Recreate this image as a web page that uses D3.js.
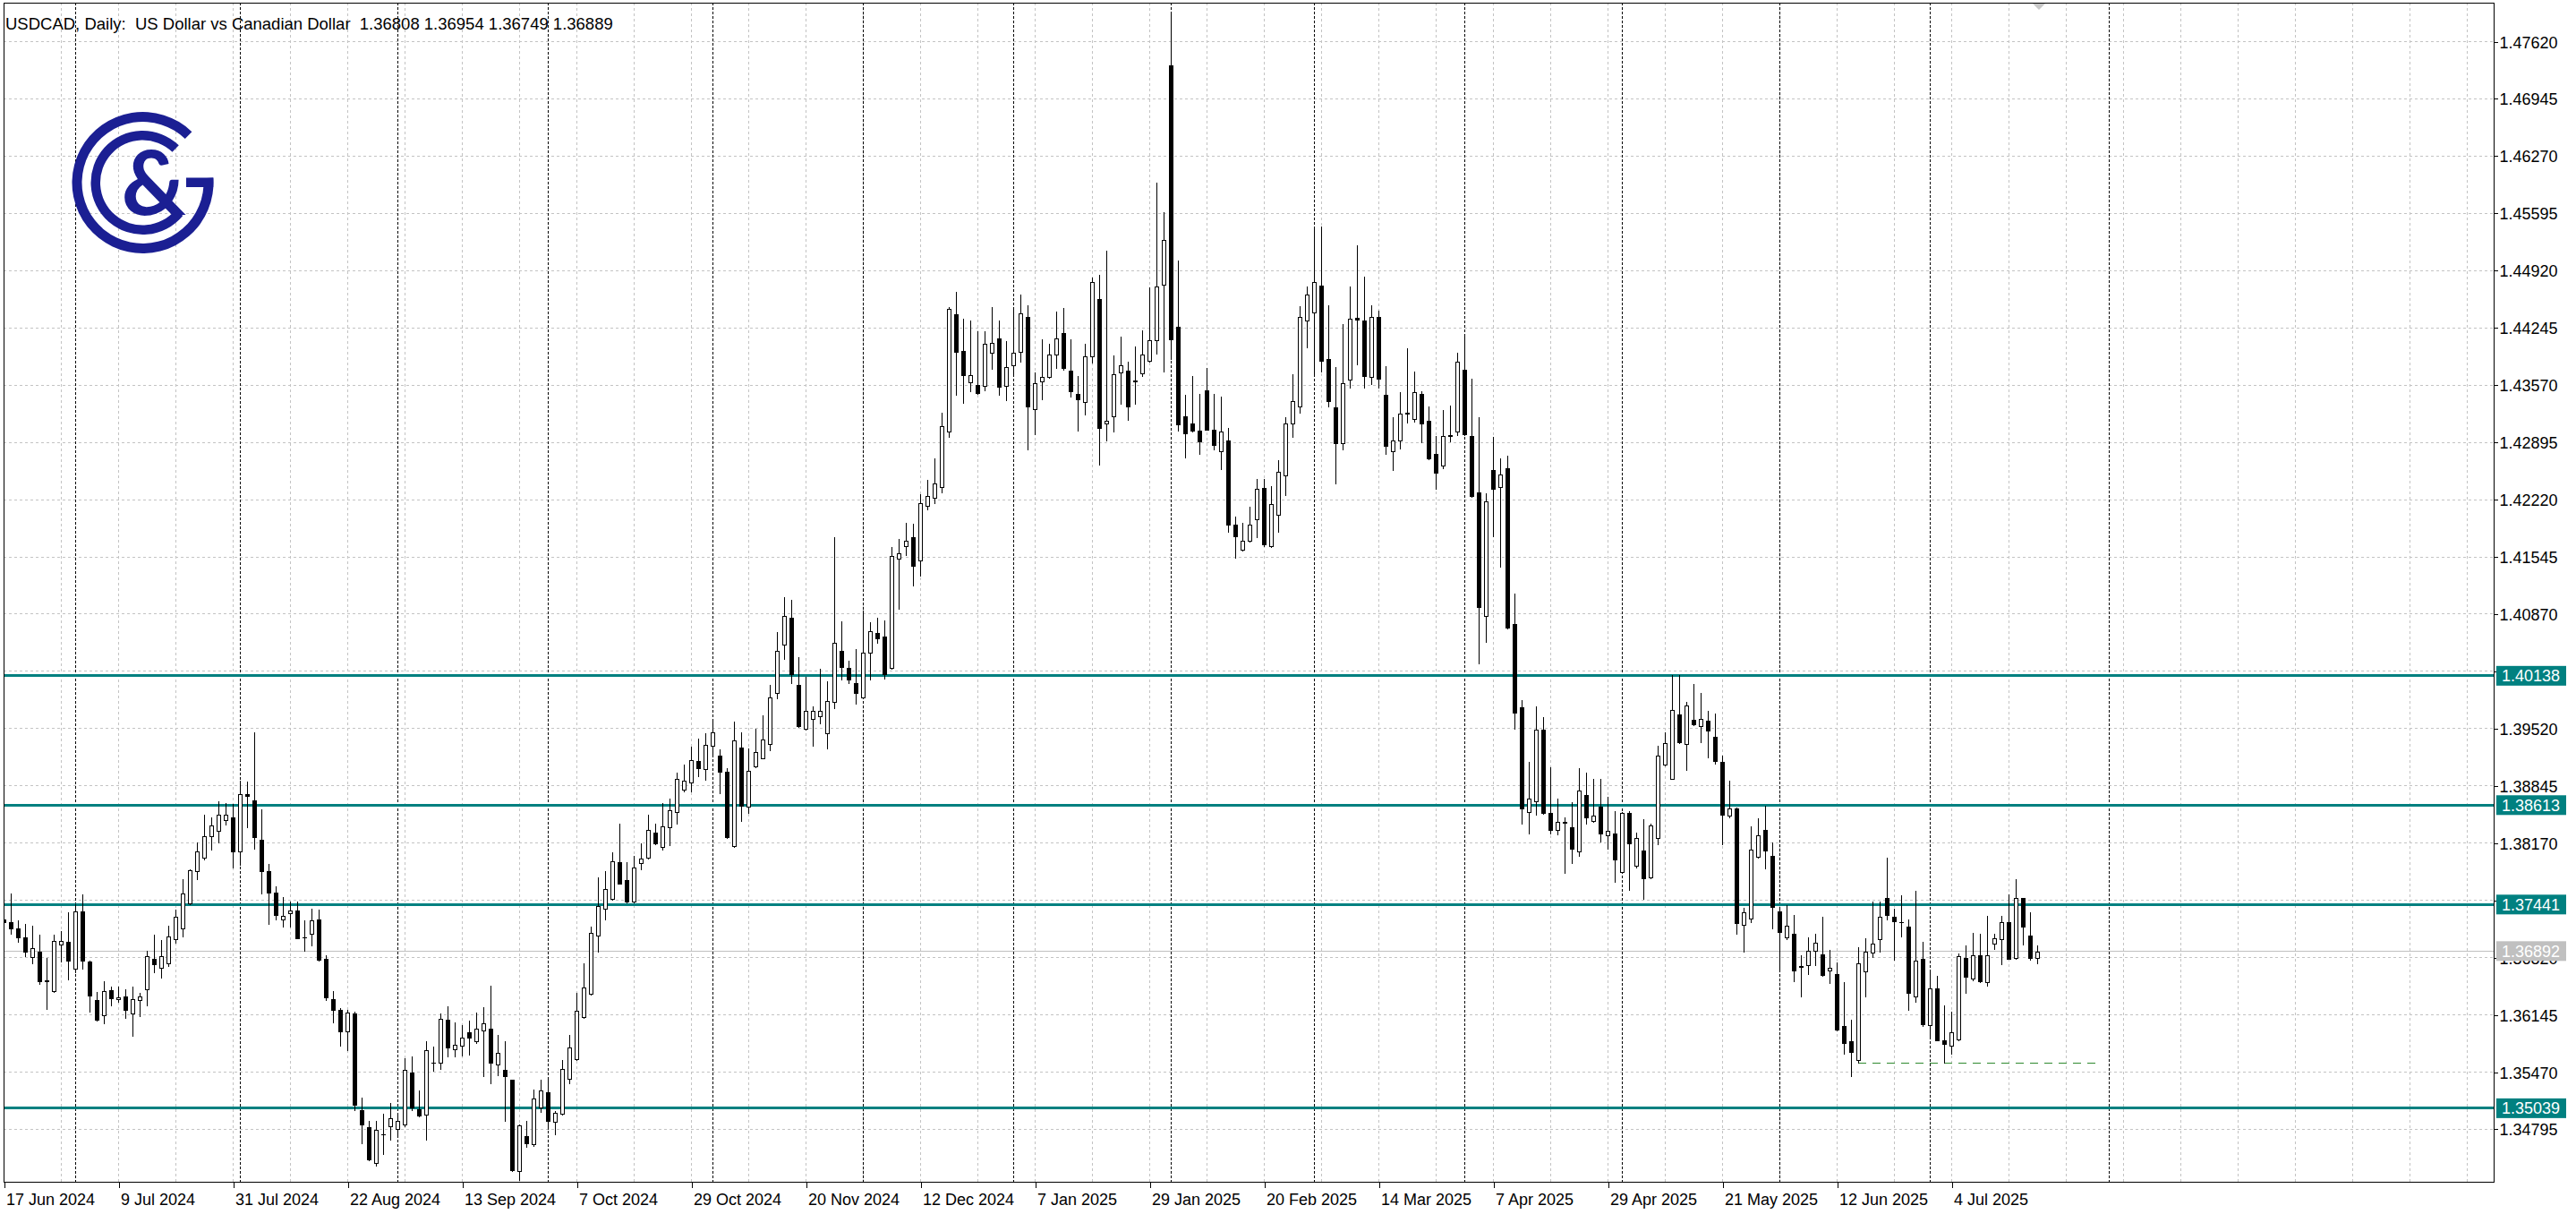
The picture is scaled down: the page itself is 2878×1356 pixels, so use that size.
<!DOCTYPE html>
<html><head><meta charset="utf-8">
<script src="https://cdn.jsdelivr.net/npm/d3@7"></script>
<style>html,body{margin:0;padding:0;background:#fff;overflow:hidden}svg{display:block}</style>
</head><body>
<script>
// ---------------- DATA ----------------
const symbolTitle = "USDCAD, Daily:  US Dollar vs Canadian Dollar  1.36808 1.36954 1.36749 1.36889";
const dateLabels = ["17 Jun 2024","9 Jul 2024","31 Jul 2024","22 Aug 2024","13 Sep 2024","7 Oct 2024","29 Oct 2024","20 Nov 2024","12 Dec 2024","7 Jan 2025","29 Jan 2025","20 Feb 2025","14 Mar 2025","7 Apr 2025","29 Apr 2025","21 May 2025","12 Jun 2025","4 Jul 2025"];
const dateLabelBars = [0,16,32,48,64,80,96,112,128,144,160,176,192,208,224,240,256,272];
const separatorBars = [10,33,55,76,99,120,141,163,183,204,226,248,269,294];
const priceTicks = [1.47620,1.46945,1.46270,1.45595,1.44920,1.44245,1.43570,1.42895,1.42220,1.41545,1.40870,1.40195,1.39520,1.38845,1.38170,1.37495,1.36820,1.36145,1.35470,1.34795];
const levels = [1.40138,1.38613,1.37441,1.35039];
const lastPrice = 1.36892;
const supportPrice = 1.35580;
const supportFromBar = 259;
const supportToBar = 293;

const open = [1.37262,1.37233,1.37155,1.37050,1.36818,1.36881,1.36540,1.36417,1.36972,1.36997,
1.36687,1.37356,1.36768,1.36311,1.36135,1.36434,1.36325,1.36353,1.36160,1.36311,
1.36441,1.36800,1.36698,1.36751,1.37029,1.37156,1.37451,1.37831,1.37990,1.38243,
1.38313,1.38440,1.38465,1.38070,1.38739,1.38665,1.38201,1.37831,1.37585,1.37261,
1.37338,1.37367,1.37057,1.37092,1.37268,1.36800,1.36325,1.36195,1.35941,1.36161,
1.35021,1.34820,1.34394,1.34729,1.34824,1.34795,1.34850,1.35458,1.35032,1.34966,
1.35578,1.35571,1.36081,1.35731,1.35779,1.35932,1.35826,1.35961,1.35972,1.35560,
1.35494,1.35371,1.34303,1.34711,1.34613,1.35050,1.35225,1.34875,1.34977,1.35389,
1.35615,1.36117,1.36387,1.37079,1.37389,1.37509,1.37939,1.37728,1.37473,1.37928,
1.37990,1.38292,1.38117,1.38347,1.38529,1.38795,1.38885,1.39130,1.39036,1.39315,
1.39199,1.39005,1.38131,1.39294,1.38596,1.39070,1.39165,1.39337,1.39940,1.40509,
1.40823,1.40026,1.39518,1.39630,1.39660,1.39458,1.39832,1.40436,1.40233,1.40048,
1.39884,1.40414,1.40642,1.40599,1.40233,1.41521,1.41672,1.41771,1.41500,1.42146,
1.42232,1.42361,1.43020,1.44399,1.43968,1.43602,1.43567,1.43559,1.43947,1.44119,
1.43559,1.43796,1.43955,1.44369,1.43281,1.43613,1.43660,1.43927,1.44177,1.43733,
1.43462,1.43367,1.43906,1.44582,1.43109,1.43195,1.43712,1.43733,1.43617,1.43703,
1.43850,1.44091,1.44746,1.47340,1.44251,1.43195,1.43109,1.43031,1.43505,1.43035,
1.42785,1.42915,1.41924,1.41622,1.41730,1.41988,1.42354,1.41665,1.42031,1.42505,
1.43117,1.43315,1.44324,1.44423,1.44737,1.43871,1.43302,1.42885,1.43626,1.44358,
1.44330,1.43658,1.44374,1.43456,1.42782,1.42914,1.43238,1.43164,1.43466,1.43148,
1.42755,1.42622,1.42978,1.43015,1.43748,1.42967,1.42304,1.40839,1.42564,1.42367,
1.42580,1.40748,1.39766,1.38535,1.38662,1.39501,1.38519,1.38322,1.38412,1.38349,
1.38067,1.38731,1.38428,1.38598,1.38253,1.38280,1.37828,1.38519,1.37897,1.38078,
1.37759,1.38227,1.39087,1.38927,1.39686,1.39331,1.39617,1.39543,1.39607,1.39415,
1.39123,1.38493,1.38571,1.37198,1.37276,1.38001,1.38317,1.38015,1.37357,1.37050,
1.37092,1.36716,1.36723,1.36899,1.36857,1.36660,1.36618,1.36009,1.35826,1.35604,
1.36653,1.36874,1.37029,1.37522,1.37297,1.37237,1.37181,1.36361,1.36801,1.36019,
1.36452,1.35843,1.35773,1.35854,1.36811,1.36565,1.36839,1.36530,1.36977,1.37029,
1.37233,1.36811,1.37515,1.37075,1.36808];
const high = [1.37290,1.37567,1.37258,1.37208,1.37187,1.37081,1.36811,1.37081,1.37127,1.37349,
1.37444,1.37560,1.36780,1.36406,1.36536,1.36476,1.36476,1.36441,1.36476,1.36395,
1.36899,1.37081,1.37022,1.37187,1.37384,1.37743,1.37859,1.38172,1.38500,1.38472,
1.38658,1.38641,1.38630,1.38897,1.38887,1.39467,1.38560,1.37919,1.37655,1.37525,
1.37479,1.37472,1.37250,1.37391,1.37381,1.36846,1.36417,1.36220,1.36195,1.36180,
1.35159,1.34886,1.34886,1.34977,1.35097,1.34977,1.35633,1.35651,1.35250,1.35833,
1.35771,1.36161,1.36241,1.36052,1.36015,1.36077,1.36172,1.36234,1.36482,1.35899,
1.35826,1.35378,1.34850,1.34893,1.35258,1.35378,1.35396,1.35003,1.35607,1.35906,
1.36398,1.36751,1.37181,1.37764,1.37837,1.38056,1.38391,1.37939,1.38019,1.38165,
1.38500,1.38391,1.38638,1.38693,1.38992,1.39094,1.39303,1.39402,1.39458,1.39595,
1.39272,1.39044,1.39595,1.39475,1.39285,1.39509,1.39673,1.40026,1.40651,1.41060,
1.41030,1.40362,1.40121,1.39777,1.40220,1.40078,1.41771,1.40780,1.40319,1.40457,
1.40909,1.40767,1.40823,1.40793,1.41655,1.41750,1.41943,1.41930,1.42279,1.42452,
1.42706,1.43236,1.44485,1.44670,1.44343,1.44326,1.44205,1.44205,1.44485,1.44326,
1.44084,1.44455,1.44636,1.44507,1.43712,1.44100,1.44048,1.44431,1.44474,1.44100,
1.43669,1.44048,1.44832,1.44866,1.45155,1.43919,1.44134,1.43841,1.44022,1.44207,
1.44716,1.45953,1.45599,1.47943,1.45035,1.43453,1.43669,1.43462,1.43764,1.43462,
1.43432,1.43057,1.42010,1.41945,1.42126,1.42454,1.42462,1.42376,1.42678,1.43186,
1.43690,1.44496,1.44724,1.45427,1.45435,1.44509,1.43776,1.44281,1.44724,1.45211,
1.44845,1.44502,1.44438,1.43790,1.43190,1.43482,1.44003,1.43721,1.43493,1.43312,
1.42962,1.43270,1.43323,1.43950,1.44135,1.43642,1.43190,1.42288,1.42951,1.42702,
1.42728,1.41104,1.39846,1.39118,1.39777,1.39649,1.39060,1.38688,1.38465,1.38651,
1.39049,1.38996,1.38927,1.38927,1.38715,1.38545,1.38529,1.38545,1.38290,1.38449,
1.38396,1.39315,1.39474,1.40148,1.40148,1.39830,1.40042,1.39936,1.39725,1.39690,
1.39197,1.38905,1.38588,1.37402,1.38366,1.38458,1.38606,1.38176,1.37416,1.37437,
1.37321,1.36846,1.37050,1.37092,1.37297,1.36906,1.36758,1.36522,1.36079,1.36934,
1.37040,1.37473,1.37473,1.37997,1.37392,1.37550,1.37262,1.37603,1.37005,1.36677,
1.36600,1.36248,1.36178,1.36864,1.36959,1.37110,1.37092,1.37311,1.37092,1.37304,
1.37557,1.37744,1.37522,1.37346,1.36954];
const low = [1.37220,1.37099,1.36997,1.36828,1.36747,1.36504,1.36212,1.36410,1.36768,1.36557,
1.36642,1.36687,1.36177,1.36072,1.36037,1.36255,1.36290,1.36100,1.35896,1.36124,
1.36248,1.36642,1.36582,1.36712,1.36987,1.37068,1.37444,1.37743,1.37972,1.38085,
1.38172,1.38387,1.37877,1.37912,1.38352,1.38102,1.37574,1.37215,1.37268,1.37180,
1.37180,1.37039,1.36899,1.36962,1.36775,1.36318,1.36054,1.35772,1.35727,1.35014,
1.34631,1.34423,1.34358,1.34504,1.34667,1.34704,1.34831,1.35014,1.34941,1.34667,
1.35476,1.35498,1.35651,1.35651,1.35658,1.35669,1.35804,1.35414,1.35330,1.35433,
1.34886,1.34303,1.34194,1.34584,1.34595,1.34995,1.34795,1.34729,1.34966,1.35330,
1.35607,1.36106,1.36380,1.36882,1.37261,1.37502,1.37684,1.37465,1.37465,1.37855,
1.37983,1.38147,1.38092,1.38136,1.38391,1.38777,1.38777,1.38949,1.38915,1.39195,
1.38755,1.38230,1.38122,1.38424,1.38518,1.39057,1.39165,1.39259,1.39876,1.40336,
1.40048,1.39531,1.39501,1.39315,1.39574,1.39285,1.39759,1.40091,1.40048,1.39811,
1.39876,1.40091,1.40522,1.40104,1.40220,1.40931,1.41556,1.41198,1.41319,1.42103,
1.42172,1.42301,1.42956,1.43451,1.43352,1.43494,1.43464,1.43503,1.43753,1.43451,
1.43386,1.43688,1.43839,1.42805,1.42988,1.43402,1.43651,1.43764,1.43746,1.43432,
1.43031,1.43216,1.43832,1.42626,1.42915,1.43022,1.43346,1.43160,1.43346,1.43677,
1.43841,1.43936,1.43720,1.43876,1.43031,1.42712,1.43022,1.42751,1.43035,1.42807,
1.42570,1.41837,1.41527,1.41609,1.41721,1.41773,1.41665,1.41656,1.41837,1.42268,
1.42958,1.43238,1.44013,1.43690,1.43720,1.43315,1.42410,1.42807,1.43531,1.43807,
1.43535,1.43578,1.43535,1.42750,1.42569,1.42819,1.43121,1.43137,1.42888,1.42686,
1.42341,1.42580,1.42898,1.42978,1.42978,1.42251,1.40281,1.40536,1.41783,1.41422,
1.40700,1.39517,1.38396,1.38280,1.38503,1.38508,1.38280,1.38269,1.37812,1.37934,
1.38014,1.38396,1.38412,1.38184,1.38094,1.37706,1.37817,1.37616,1.37881,1.37510,
1.37749,1.38147,1.39076,1.38917,1.39341,1.39033,1.39554,1.39352,1.39171,1.39105,
1.38155,1.38472,1.37100,1.36882,1.37233,1.37993,1.37867,1.37156,1.36688,1.37029,
1.36537,1.36361,1.36618,1.36723,1.36600,1.36512,1.35960,1.35685,1.35421,1.35579,
1.36361,1.36818,1.36888,1.37262,1.36794,1.37064,1.36195,1.36290,1.36009,1.35889,
1.35836,1.35579,1.35685,1.35843,1.36396,1.36547,1.36530,1.36487,1.36917,1.36734,
1.36797,1.36804,1.36969,1.36794,1.36749];
const close = [1.37235,1.37162,1.37057,1.36881,1.36923,1.36540,1.36545,1.37015,1.37008,1.36782,
1.37356,1.36775,1.36371,1.36079,1.36417,1.36336,1.36346,1.36195,1.36325,1.36353,
1.36828,1.36733,1.36835,1.37064,1.37293,1.37567,1.37842,1.38070,1.38243,1.38377,
1.38500,1.38500,1.38070,1.38746,1.38725,1.38236,1.37838,1.37585,1.37321,1.37303,
1.37367,1.37046,1.37050,1.37250,1.36786,1.36343,1.36195,1.35941,1.36167,1.35075,
1.34850,1.34431,1.34788,1.34733,1.34922,1.34893,1.35487,1.35050,1.34952,1.35724,
1.35574,1.36088,1.35753,1.35790,1.35870,1.35870,1.35972,1.36045,1.35578,1.35695,
1.35414,1.34311,1.34839,1.34631,1.35152,1.35250,1.34886,1.34984,1.35505,1.35753,
1.36190,1.36463,1.37108,1.37418,1.37626,1.37946,1.37691,1.37473,1.37881,1.37983,
1.38318,1.38158,1.38365,1.38555,1.38923,1.38904,1.39143,1.39044,1.39328,1.39475,
1.39005,1.38238,1.39371,1.38605,1.39014,1.39238,1.39389,1.39884,1.40436,1.40845,
1.40156,1.39544,1.39725,1.39725,1.39725,1.39845,1.40530,1.40242,1.40091,1.39940,
1.40414,1.40664,1.40578,1.40156,1.41547,1.41586,1.41728,1.41439,1.42172,1.42258,
1.42404,1.43085,1.44464,1.43955,1.43679,1.43688,1.43473,1.44054,1.44067,1.43550,
1.43783,1.43947,1.44408,1.43309,1.43591,1.43660,1.43927,1.44121,1.43764,1.43488,
1.43402,1.43906,1.44780,1.43057,1.43143,1.43690,1.43798,1.43315,1.43608,1.43927,
1.44091,1.44733,1.45272,1.44100,1.43100,1.43001,1.43031,1.42902,1.43044,1.42859,
1.43014,1.41924,1.41786,1.41730,1.41924,1.42346,1.41687,1.42161,1.42548,1.43117,
1.43376,1.44367,1.44638,1.44780,1.43850,1.43376,1.42885,1.43583,1.44349,1.44341,
1.43675,1.44374,1.43642,1.42845,1.42914,1.43227,1.43227,1.43482,1.43111,1.42702,
1.42537,1.42962,1.42967,1.43838,1.42989,1.42261,1.40950,1.42198,1.42341,1.42511,
1.40711,1.39702,1.38572,1.38694,1.39501,1.38519,1.38322,1.38412,1.38402,1.38094,
1.38784,1.38465,1.38492,1.38280,1.38306,1.37971,1.38519,1.38163,1.38227,1.37749,
1.38375,1.39193,1.39341,1.39739,1.39352,1.39793,1.39564,1.39633,1.39488,1.39134,
1.38500,1.38571,1.37226,1.37346,1.38085,1.38254,1.38078,1.37409,1.37121,1.37191,
1.36660,1.36709,1.36892,1.36987,1.36607,1.36695,1.35967,1.35808,1.35703,1.36751,
1.36888,1.36977,1.37297,1.37321,1.37240,1.37230,1.36396,1.36776,1.36030,1.36452,
1.35843,1.35801,1.35938,1.36829,1.36593,1.36839,1.36537,1.36839,1.37040,1.37233,
1.36804,1.37515,1.37180,1.36811,1.36889];

// ---------------- LAYOUT ----------------
const W = 2878, H = 1356;
const plot = {left: 4, right: 2786, top: 3, bottom: 1320};
const FONT = "'Liberation Sans', Arial, sans-serif";
const TEAL = "#008080";
const GRID = "#c3c3c3";

const svg = d3.select("body").append("svg").attr("width", W).attr("height", H)
  .style("font-family", FONT);
svg.append("rect").attr("width", W).attr("height", H).attr("fill", "#fff");

const x = d3.scaleLinear().domain([0, 347.75]).range([plot.left, plot.right]);
const y = d3.scaleLinear().domain([1.34172, 1.48106]).range([1320, 0]);
const px = v => Math.round(x(v));
const py = v => Math.round(y(v));

svg.append("clipPath").attr("id", "clip").append("rect")
  .attr("x", plot.left).attr("y", plot.top)
  .attr("width", plot.right - plot.left).attr("height", plot.bottom - plot.top);

const g = svg.append("g").attr("clip-path", "url(#clip)").attr("shape-rendering", "crispEdges");

// horizontal grid
g.selectAll(".hg").data(priceTicks).enter().append("line")
  .attr("x1", plot.left).attr("x2", plot.right)
  .attr("y1", d => py(d) + 0.5).attr("y2", d => py(d) + 0.5)
  .attr("stroke", GRID).attr("stroke-dasharray", "3,3");

// vertical grid every 8 bars
const vgrid = d3.range(8, 348, 8);
g.selectAll(".vg").data(vgrid).enter().append("line")
  .attr("x1", d => px(d) + 0.5).attr("x2", d => px(d) + 0.5)
  .attr("y1", plot.top).attr("y2", plot.bottom)
  .attr("stroke", GRID).attr("stroke-dasharray", "3,3");

// period separators
g.selectAll(".sep").data(separatorBars).enter().append("line")
  .attr("x1", d => px(d) + 0.5).attr("x2", d => px(d) + 0.5)
  .attr("y1", plot.top).attr("y2", plot.bottom)
  .attr("stroke", "#000").attr("stroke-dasharray", "3,2");

// current price line
g.append("line").attr("x1", plot.left).attr("x2", plot.right)
  .attr("y1", py(lastPrice) + 0.5).attr("y2", py(lastPrice) + 0.5)
  .attr("stroke", "#c0c0c0");

// horizontal levels
g.selectAll(".lvl").data(levels).enter().append("line")
  .attr("x1", plot.left).attr("x2", plot.right)
  .attr("y1", d => y(d)).attr("y2", d => y(d))
  .attr("stroke", TEAL).attr("stroke-width", 3);

// support dashed line
g.append("line").attr("x1", px(supportFromBar)).attr("x2", px(supportToBar))
  .attr("y1", py(supportPrice) + 0.5).attr("y2", py(supportPrice) + 0.5)
  .attr("stroke", "#2f8a2f").attr("stroke-width", 1.5).attr("stroke-dasharray", "9,7");

// candles
const bars = d3.range(open.length);
const cg = g.append("g");
cg.selectAll(".wick").data(bars).enter().append("line")
  .attr("x1", i => px(i) + 0.5).attr("x2", i => px(i) + 0.5)
  .attr("y1", i => py(high[i])).attr("y2", i => py(low[i]) + 1)
  .attr("stroke", "#000");
cg.selectAll(".body").data(bars).enter().append("rect")
  .attr("x", i => px(i) - 1.5)
  .attr("width", 4)
  .attr("y", i => py(Math.max(open[i], close[i])) + 0.5)
  .attr("height", i => Math.max(0.001, py(Math.min(open[i], close[i])) - py(Math.max(open[i], close[i]))))
  .attr("fill", i => close[i] >= open[i] ? "#fff" : "#000")
  .attr("stroke", "#000");

// chart shift marker
svg.append("path").attr("d", "M2270,3 L2286,3 L2278,11 Z").attr("fill", "#c8c8c8");

// frame
svg.append("rect").attr("x", plot.left + 0.5).attr("y", plot.top + 0.5)
  .attr("width", plot.right - plot.left).attr("height", plot.bottom - plot.top)
  .attr("fill", "none").attr("stroke", "#000").attr("shape-rendering", "crispEdges");

// right axis
const yAxis = d3.axisRight(y).tickValues(priceTicks).tickFormat(d3.format(".5f")).tickSize(4).tickPadding(3);
const ya = svg.append("g").attr("transform", `translate(${plot.right + 0.5},0.5)`).call(yAxis);
ya.select(".domain").remove();
ya.selectAll(".tick line").attr("stroke", "#000").attr("shape-rendering", "crispEdges");
ya.selectAll(".tick text").attr("font-size", 18).attr("font-family", FONT).attr("fill", "#000")
  .attr("dy", "0.36em").attr("x", 6);

// level labels
const labelBox = (price, bg) => {
  const gg = svg.append("g").attr("transform", `translate(2789,${y(price)})`);
  gg.append("rect").attr("x", 0).attr("y", -11).attr("width", 78).attr("height", 22).attr("fill", bg);
  gg.append("text").attr("x", 6).attr("y", 0).attr("dy", "0.36em").attr("font-size", 18)
    .attr("fill", "#fff").text(price.toFixed(5));
};
levels.forEach(l => labelBox(l, TEAL));
labelBox(lastPrice, "#c0c0c0");

// bottom axis
const xAxis = d3.axisBottom(x).tickValues(dateLabelBars).tickFormat((d, i) => dateLabels[i]).tickSize(6);
const xa = svg.append("g").attr("transform", `translate(0.5,${plot.bottom + 0.5})`).call(xAxis);
xa.select(".domain").remove();
xa.selectAll(".tick line").attr("stroke", "#000").attr("shape-rendering", "crispEdges");
xa.selectAll(".tick text").attr("font-size", 18).attr("font-family", FONT).attr("fill", "#000")
  .attr("text-anchor", "start").attr("x", 2).attr("dy", null).attr("y", 25);

// title
svg.append("text").attr("x", 6).attr("y", 33).attr("font-size", 18.5).attr("fill", "#000")
  .style("white-space", "pre").text(symbolTitle);

// logo
const NAVY = "#1b1f93";
const logo = svg.append("g").attr("transform", "translate(159.5,204)");
const arc = d3.arc();
const deg = Math.PI / 180;
logo.append("path").attr("fill", NAVY)
  .attr("d", arc({innerRadius: 68, outerRadius: 79, startAngle: 86 * deg, endAngle: 404 * deg}));
logo.append("rect").attr("x", 48.5).attr("y", -5.5).attr("width", 30.3).attr("height", 10.5).attr("fill", NAVY);
logo.append("path").attr("fill", NAVY)
  .attr("d", arc({innerRadius: 47.5, outerRadius: 58, startAngle: 129.5 * deg, endAngle: 404 * deg}));
logo.append("text").attr("x", -24).attr("y", 36).attr("font-size", 100).attr("font-weight", 700)
  .attr("font-family", "Lato, 'DejaVu Sans', sans-serif").attr("fill", NAVY).text("&");
</script>
</body></html>
